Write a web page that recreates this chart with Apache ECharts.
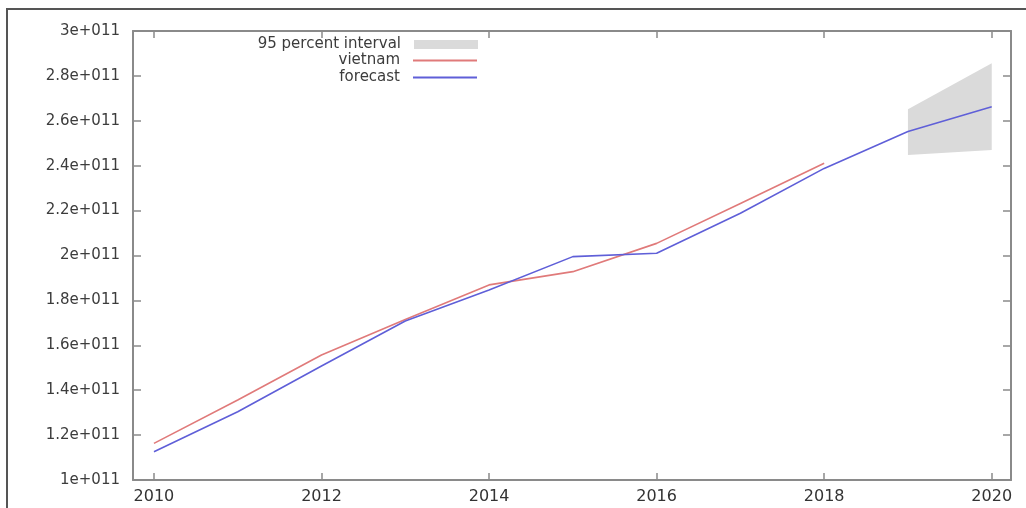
<!DOCTYPE html>
<html>
<head>
<meta charset="utf-8">
<script src="https://cdn.jsdelivr.net/npm/echarts@6/dist/echarts.min.js"></script>
<style>
html,body{margin:0;padding:0;background:#fff;}
#c{width:1026px;height:508px;}
</style>
</head>
<body>
<div id="c"></div>
<script>
// ---- data ----
const years = [2010, 2011, 2012, 2013, 2014, 2015, 2016, 2017, 2018, 2019, 2020];
const vietnamYears = [2010, 2011, 2012, 2013, 2014, 2015, 2016, 2017, 2018];
const vietnam = [1.163e11, 1.356e11, 1.557e11, 1.715e11, 1.869e11, 1.928e11, 2.054e11, 2.232e11, 2.411e11];
const forecast = [1.126e11, 1.304e11, 1.508e11, 1.708e11, 1.846e11, 1.995e11, 2.010e11, 2.188e11, 2.388e11, 2.552e11, 2.663e11];
const intervalYears = [2019, 2020];
const intervalLow = [2.448e11, 2.470e11];
const intervalHigh = [2.651e11, 2.856e11];
const xTickLabels = [2010, 2012, 2014, 2016, 2018, 2020];

const axisColor = '#8a8a8a';
const textColor = '#3c3c3c';
const font = 'DejaVu Sans';
const redColor = '#e07a7a';
const blueColor = '#5f5fd8';

function fmtY(v) {
  const m = Math.round(v / 1e10) / 10;
  return m + 'e+011';
}

const chart = echarts.init(document.getElementById('c'), null, {renderer: 'canvas'});

const legendBase = {
  orient: 'horizontal',
  right: 548,
  padding: 0,
  align: 'right',
  itemWidth: 64,
  itemHeight: 9,
  itemGap: 0,
  textStyle: {color: textColor, fontSize: 15, fontFamily: font, padding: [0, 8, 0, 0]},
  selectedMode: false
};

const option = {
  backgroundColor: '#fff',
  animation: false,
  grid: {left: 133, right: 15, top: 31, bottom: 28, containLabel: false},
  legend: [
    Object.assign({}, legendBase, {top: 37, data: [{name: '95 percent interval', icon: 'rect'}]}),
    Object.assign({}, legendBase, {top: 53, itemStyle: {opacity: 0}, data: ['vietnam']}),
    Object.assign({}, legendBase, {top: 70, itemStyle: {opacity: 0}, data: ['forecast']})
  ],
  xAxis: [
    {
      type: 'value', min: 2009.75, max: 2020.23,
      axisLine: {show: true, onZero: false, lineStyle: {color: axisColor, width: 2}},
      axisTick: {show: true, inside: true, length: 7, customValues: xTickLabels, lineStyle: {color: axisColor, width: 1.5}},
      axisLabel: {customValues: xTickLabels, color: '#333', fontSize: 16, fontFamily: font, margin: 9, formatter: v => String(v)},
      splitLine: {show: false}
    },
    {
      type: 'value', position: 'top', min: 2009.75, max: 2020.23,
      axisLine: {show: true, onZero: false, lineStyle: {color: axisColor, width: 2}},
      axisTick: {show: true, inside: true, length: 7, customValues: xTickLabels, lineStyle: {color: axisColor, width: 1.5}},
      axisLabel: {show: false},
      splitLine: {show: false}
    }
  ],
  yAxis: [
    {
      type: 'value', min: 1e11, max: 3e11, interval: 2e10,
      axisLine: {show: true, onZero: false, lineStyle: {color: axisColor, width: 2}},
      axisTick: {show: true, inside: true, length: 8, lineStyle: {color: axisColor, width: 1.5}},
      axisLabel: {color: textColor, fontSize: 15, fontFamily: font, margin: 13, formatter: fmtY},
      splitLine: {show: false}
    },
    {
      type: 'value', position: 'right', min: 1e11, max: 3e11, interval: 2e10,
      axisLine: {show: true, onZero: false, lineStyle: {color: axisColor, width: 2}},
      axisTick: {show: true, inside: true, length: 8, lineStyle: {color: axisColor, width: 1.5}},
      axisLabel: {show: false},
      splitLine: {show: false}
    }
  ],
  series: [
    {
      name: '95 percent interval',
      type: 'custom',
      xAxisIndex: 0, yAxisIndex: 0,
      itemStyle: {color: '#dadada'},
      data: intervalYears.map((y, i) => [y, intervalLow[i], intervalHigh[i]]),
      renderItem: function (params, api) {
        if (params.dataIndex !== 0) return null;
        const pts = [];
        for (let i = 0; i < intervalYears.length; i++) pts.push(api.coord([intervalYears[i], intervalHigh[i]]));
        for (let i = intervalYears.length - 1; i >= 0; i--) pts.push(api.coord([intervalYears[i], intervalLow[i]]));
        return {type: 'polygon', shape: {points: pts}, style: {fill: '#dadada'}};
      },
      z: 1
    },
    {
      name: 'vietnam',
      type: 'line',
      data: vietnamYears.map((y, i) => [y, vietnam[i]]),
      showSymbol: false, symbol: 'none',
      itemStyle: {color: redColor},
      lineStyle: {color: redColor, width: 1.6},
      z: 3
    },
    {
      name: 'forecast',
      type: 'line',
      data: years.map((y, i) => [y, forecast[i]]),
      showSymbol: false, symbol: 'none',
      itemStyle: {color: blueColor},
      lineStyle: {color: blueColor, width: 1.6},
      z: 4
    }
  ],
  graphic: [
    {
      type: 'polyline', silent: true,
      shape: {points: [[7, 508], [7, 9], [1026, 9]]},
      style: {stroke: '#555', lineWidth: 2, fill: null}
    }
  ]
};
chart.setOption(option);
</script>
</body>
</html>
